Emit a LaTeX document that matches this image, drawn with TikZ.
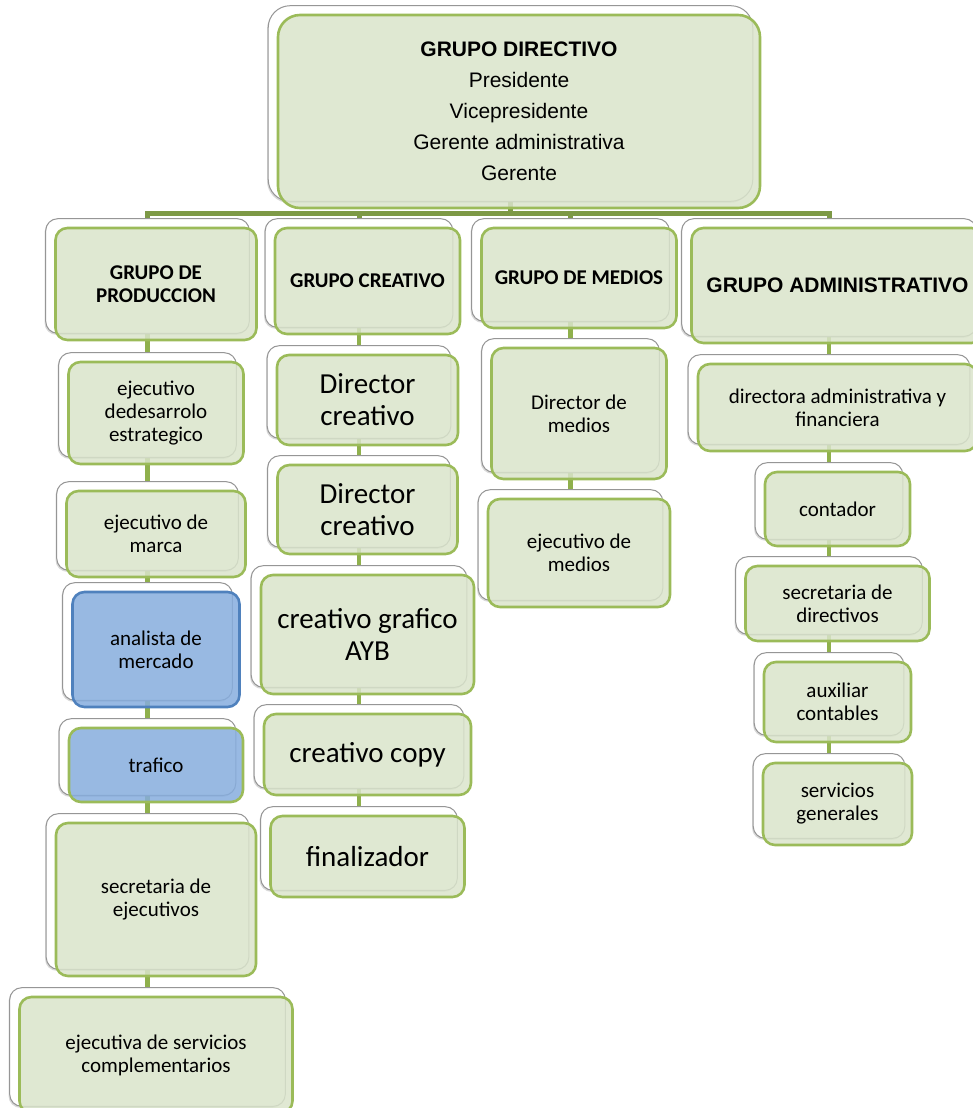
\documentclass[tikz,border=0pt]{standalone}
\usepackage{fontspec}
\setmainfont{Carlito}
\newfontfamily\arialfont{Liberation Sans}
\usetikzlibrary{shadows}

\pgfdeclarelayer{links}
\pgfdeclarelayer{backs}
\pgfsetlayers{links,backs,main}

\definecolor{cardfill}{RGB}{218,228,203}
\definecolor{cardline}{RGB}{155,187,89}
\definecolor{bluefill}{RGB}{134,173,222}
\definecolor{blueline}{RGB}{79,129,189}
\definecolor{busgreen}{RGB}{125,153,70}
\definecolor{linkgreen}{RGB}{143,176,76}
\definecolor{backline}{RGB}{150,150,150}

\newcommand\bodysize{\fontsize{21}{23}\selectfont}
\newcommand\bigsize{\fontsize{29}{32}\selectfont}

\tikzset{
  card/.style={draw=cardline, line width=2.6pt, fill=cardfill, fill opacity=0.85,
    text opacity=1, rounded corners=12pt, inner sep=0pt, align=center, font=\bodysize},
  bluecard/.style={card, fill=bluefill, draw=blueline},
  trafcard/.style={card, fill=bluefill},
  backcard/.style={draw=backline, line width=1pt, fill=white,
    drop shadow={shadow xshift=-1.2pt, shadow yshift=-1.6pt, opacity=0.3}},
  bus/.style={draw=busgreen, line width=5pt},
  link/.style={draw=linkgreen, line width=4.5pt},
}

% white card lying behind each box, shifted up and to the left
\newcommand\backof[2][12pt]{%
  \path[backcard, rounded corners=#1]
    ([shift={(-8.5,-8)}]#2.south west) rectangle ([shift={(-8.5,-8)}]#2.north east);}

\begin{document}
\begin{tikzpicture}[x=1pt, y=-1pt]
\useasboundingbox (0,0) rectangle (972,1108);

% column axes and the bus level
\coordinate (xT) at (510.5,0);
\coordinate (xP) at (147.5,0);
\coordinate (xC) at (359,0);
\coordinate (xM) at (570.5,0);
\coordinate (xA) at (829,0);
\coordinate (bus) at (0,213);

% top box
\node[card, rounded corners=22pt, minimum width=482, minimum height=193,
      font=\arialfont\fontsize{21}{31}\selectfont] (top) at (519,111.5)
  {\textbf{GRUPO DIRECTIVO}\\Presidente\\Vicepresidente\\Gerente administrativa\\Gerente};

% groups
\node[card, minimum width=201, minimum height=112, font=\bodysize\bfseries] (prod) at (156,284) {GRUPO DE\\PRODUCCION};
\node[card, minimum width=185, minimum height=106, font=\bodysize\bfseries] (crea) at (367.5,281) {GRUPO CREATIVO};
\node[card, minimum width=195, minimum height=100, font=\bodysize\bfseries] (med) at (579,278) {GRUPO DE MEDIOS};
\node[card, minimum width=292, minimum height=115, font=\arialfont\fontsize{21}{23}\selectfont\bfseries] (adm) at (837.5,285.5) {GRUPO ADMINISTRATIVO};

% production column
\node[card, minimum width=175, minimum height=102] (p1) at (156,413) {ejecutivo\\dedesarrolo\\estrategico};
\node[card, minimum width=179, minimum height=86] (p2) at (156,534) {ejecutivo de\\marca};
\node[bluecard, minimum width=167, minimum height=115] (p3) at (156,649.5) {analista de\\mercado};
\node[trafcard, minimum width=174, minimum height=74] (p4) at (156,765) {trafico};
\node[card, minimum width=200, minimum height=153] (p5) at (156,899.5) {secretaria de\\ejecutivos};
\node[card, minimum width=273, minimum height=116] (p6) at (156,1055) {ejecutiva de servicios\\complementarios};

% creative column
\node[card, minimum width=181, minimum height=90, font=\bigsize] (c1) at (367.5,400) {Director\\creativo};
\node[card, minimum width=180, minimum height=89, font=\bigsize] (c2) at (367.5,509.5) {Director\\creativo};
\node[card, minimum width=213, minimum height=119, font=\bigsize] (c3) at (367.5,634.5) {creativo grafico\\AYB};
\node[card, minimum width=207, minimum height=81, font=\bigsize] (c4) at (367.5,754.5) {creativo copy};
\node[card, minimum width=194, minimum height=81, font=\bigsize] (c5) at (367.5,856.5) {finalizador};

% media column
\node[card, minimum width=175, minimum height=131] (m1) at (579,413.5) {Director de\\medios};
\node[card, minimum width=182, minimum height=108] (m2) at (579,553) {ejecutivo de\\medios};

% administrative column
\node[card, minimum width=279, minimum height=87] (a1) at (837.5,407.5) {directora administrativa y\\financiera};
\node[card, minimum width=145, minimum height=74] (a2) at (837.5,509) {contador};
\node[card, minimum width=184, minimum height=75] (a3) at (837.5,603.5) {secretaria de\\directivos};
\node[card, minimum width=147, minimum height=80] (a4) at (837.5,702) {auxiliar\\contables};
\node[card, minimum width=149, minimum height=82] (a5) at (837.5,804) {servicios\\generales};

% back cards
\begin{pgfonlayer}{backs}
  \backof[22pt]{top}
  \foreach \n in {prod,crea,med,adm,p1,p2,p3,p4,p5,p6,c1,c2,c3,c4,c5,m1,m2,a1,a2,a3,a4,a5}
    {\backof{\n}}
\end{pgfonlayer}

% connectors
\begin{pgfonlayer}{links}
  \draw[bus] (xT |- top.center) -- (xT |- bus) -| (xP |- prod.center);
  \draw[bus] (xT |- bus) -| (xC |- crea.center);
  \draw[bus] (xT |- bus) -| (xM |- med.center);
  \draw[bus] (xT |- bus) -| (xA |- adm.center);

  \draw[link] (xP |- prod.center) -- (xP |- p1.center);
  \draw[link] (xP |- p1.center) -- (xP |- p2.center);
  \draw[link] (xP |- p2.center) -- (xP |- p3.center);
  \draw[link] (xP |- p3.center) -- (xP |- p4.center);
  \draw[link] (xP |- p4.center) -- (xP |- p5.center);
  \draw[link] (xP |- p5.center) -- (xP |- p6.center);

  \draw[link] (xC |- crea.center) -- (xC |- c1.center);
  \draw[link] (xC |- c1.center) -- (xC |- c2.center);
  \draw[link] (xC |- c2.center) -- (xC |- c3.center);
  \draw[link] (xC |- c3.center) -- (xC |- c4.center);
  \draw[link] (xC |- c4.center) -- (xC |- c5.center);

  \draw[link] (xM |- med.center) -- (xM |- m1.center);
  \draw[link] (xM |- m1.center) -- (xM |- m2.center);

  \draw[link] (xA |- adm.center) -- (xA |- a1.center);
  \draw[link] (xA |- a1.center) -- (xA |- a2.center);
  \draw[link] (xA |- a2.center) -- (xA |- a3.center);
  \draw[link] (xA |- a3.center) -- (xA |- a4.center);
  \draw[link] (xA |- a4.center) -- (xA |- a5.center);
\end{pgfonlayer}
\end{tikzpicture}
\end{document}
